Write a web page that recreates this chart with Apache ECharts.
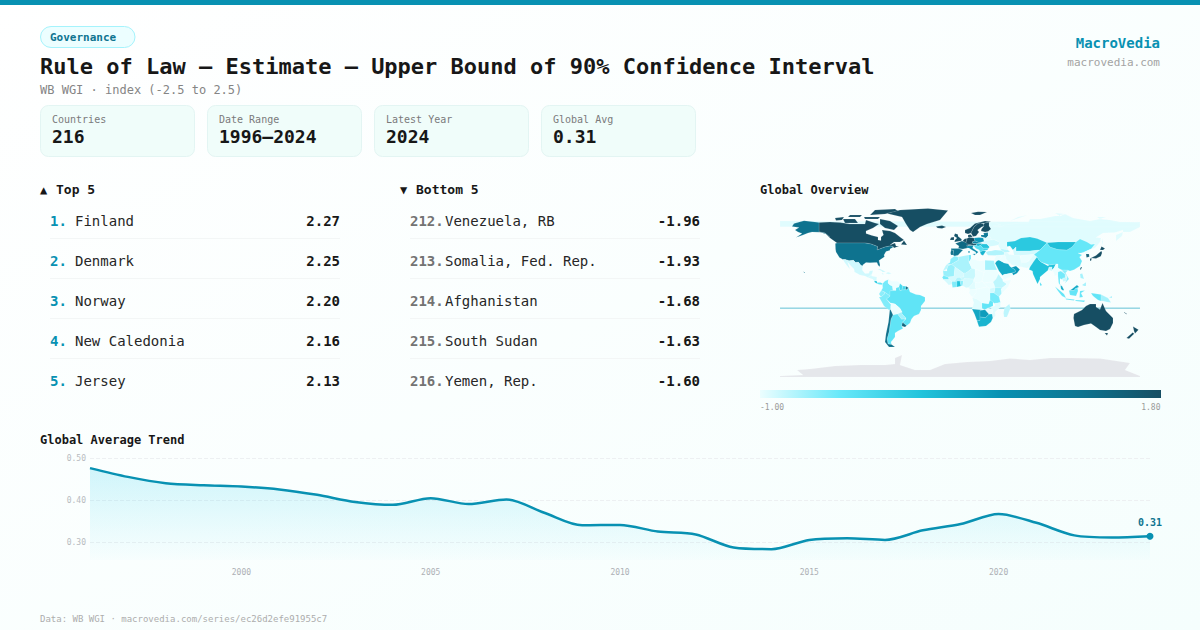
<!DOCTYPE html>
<html><head><meta charset="utf-8">
<style>html,body{margin:0;padding:0;background:#fff}#c{width:1200px;height:630px}</style>
<script src="https://cdn.jsdelivr.net/npm/echarts@6/dist/echarts.min.js"></script>
</head><body><div id="c"></div>
<script>
const years=[1996,1997,1998,1999,2000,2001,2002,2003,2004,2005,2006,2007,2008,2009,2010,2011,2012,2013,2014,2015,2016,2017,2018,2019,2020,2021,2022,2023,2024];
const globalAvg=[0.477,0.456,0.441,0.436,0.433,0.426,0.413,0.396,0.389,0.405,0.391,0.402,0.370,0.340,0.341,0.325,0.318,0.287,0.283,0.305,0.309,0.305,0.328,0.343,0.367,0.346,0.316,0.311,0.314];
const yTicks=[0.3,0.4,0.5];
const statLabels=['Countries','Date Range','Latest Year','Global Avg'];
const statValues=['216','1996–2024','2024','0.31'];
const topNames=['Finland','Denmark','Norway','New Caledonia','Jersey'];
const topValues=['2.27','2.25','2.20','2.16','2.13'];
const topRanks=['1.','2.','3.','4.','5.'];
const bottomNames=['Venezuela, RB','Somalia, Fed. Rep.','Afghanistan','South Sudan','Yemen, Rep.'];
const bottomValues=['-1.96','-1.93','-1.68','-1.63','-1.60'];
const bottomRanks=['212.','213.','214.','215.','216.'];
const scaleColors=['#ecfeff','#67e8f9','#22c4dc','#0891b2','#0e7490','#164e63'];

const countryNames=['Fiji','Russia','Canada','USA','Mexico','Guatemala-Honduras','Costa Rica','Panama','Cuba','Hispaniola','Jamaica','Colombia','Venezuela','Guyana','Suriname','French Guiana','Ecuador','Peru','Brazil','Bolivia','Paraguay','Uruguay','Argentina','Chile','Iceland','Ireland','UK','Norway','Sweden','Finland','Denmark','France','Spain','Portugal','Benelux','Germany','Alps','Italy','Poland','Czechia-Slovakia','Romania','Hungary','Bulgaria','Balkans','Greece','Baltics','Belarus','Ukraine','Turkey','Morocco','W. Sahara','Algeria','Tunisia','Libya','Egypt','Mauritania','Mali','Senegal','Guinea','Ivory Coast','Ghana','Burkina Faso','Togo-Benin','Nigeria','Niger','Chad','Cameroon','CAR','Sudan','South Sudan','Ethiopia','Somalia','Kenya','Uganda','Tanzania','DR Congo','Congo-Gabon','Angola','Zambia','Mozambique','Zimbabwe','Namibia','Botswana','South Africa','Madagascar','Saudi Arabia','Oman-UAE','Yemen','Iraq','Levant','Iran','Caucasus','Kazakhstan','Central Asia','Afghanistan','Pakistan','India','Bangladesh','Sri Lanka','China','Mongolia','North Korea','South Korea','Japan','Taiwan','Myanmar','Thailand','Laos','Vietnam','Cambodia','Malaysia','Indonesia','Papua New Guinea','Philippines','Australia','New Zealand','New Caledonia','Greenland','Antarctica'];
const countryValues=[0.5,-0.95,1.9,1.25,-0.88,-0.9,0.1,-0.4,-0.85,-0.9,-0.6,-0.5,-1.96,-0.2,-0.2,1.4,-0.6,-0.55,-0.38,-1.2,-0.7,1.45,-0.38,1.3,2.1,1.9,1.7,2.2,2.1,2.27,2.25,1.4,1.2,1.3,1.9,1.9,1.9,0.8,0.6,0.9,0.1,0.3,-0.1,-0.3,0.3,1.1,-0.95,-0.9,-0.75,-0.6,-0.8,-0.72,-0.5,-1.2,-0.7,-0.65,-0.9,-0.5,-0.9,-0.55,0.1,-0.75,-0.6,-0.9,-0.85,-1.05,-0.95,-1.3,-1.3,-1.63,-0.8,-1.93,-0.7,-0.9,-0.5,-1.5,-1.0,-0.95,-0.4,-0.95,-1.0,0.45,0.55,0.3,-0.8,0.4,0.6,-1.6,-1.1,-1.0,-0.95,-0.8,0.05,-0.9,-1.68,-0.95,0.12,-0.85,-0.3,-0.42,0.18,-1.2,1.5,2.0,1.6,-1.1,-0.5,-0.85,-0.6,-0.85,0.4,-0.4,-0.7,-0.7,2.1,2.2,2.16,2.0,null];

// Hand-traced outlines (lon,lat pairs) that stand in for the world map the page has no network to load.
const countryOutlines={
'Fiji':[[-180,-15.8,180,-15.8,180,-16.5,-180,-16.5]],
'Russia':[[-180,65.2,180,65.2,180,70,-180,71],[28,56,31,54,31,52,34,52.3,40,49.5,39,47.5,38,47,40,43.5,48,42,47,45.5,47,50,55,51,61,54,70,55,77,53.5,87,49.2,98,50,107,50,116,50,120,53,127,50,131,47.5,135,48,131,43,135,44,140,50,141,54,136,54.5,143,59,155,59.5,163,62,163,60,156,57,156,51,162,56,163,60,170,60,180,65,180,69,170,70,160,70,150,72,140,73,130,71,113,74,105,78,90,75,80,73,70,73,68,69,60,69,45,67,40,65,33,66,41,67,34,69.5,29,69.7,29,66,31,63,28,60.5,28,59.5],[50,71,56,73,68,77,58,75,52,72],[95,79,105,78,100,76],[137,75,146,75,140,73],[142,54,143,50,142.5,46,142,50]],
'Canada':[[-141,69.6,-130,70,-120,69.5,-110,68,-95,68,-94,72,-85,69,-81,68,-87,64,-94,61,-94,58.5,-88,56.5,-82,55,-82,52,-79,51.5,-79,55,-76.5,57,-78,62,-70,61,-65,59,-60,55,-56,52,-60,50,-66,50,-70,47,-65,49,-64,46,-61,46,-66,44,-67,45.5,-70,46,-75,45,-79,43.5,-83,42,-82.5,45.5,-89,48,-95,49,-123,49,-130,54,-135,59,-141,60],[-80,73,-70,71,-62,66,-66,62,-75,64,-80,68],[-117,73,-105,73,-102,69,-115,69],[-90,77,-85,82,-65,83,-62,81,-75,78],[-125,74,-116,75,-118,72,-124,71.5],[-96,75,-80,75,-82,73,-95,73],[-110,77,-98,77,-100,75,-112,75],[-59,47.6,-53,47,-56,51.5]],
'USA':[[-124.7,48.4,-123,49,-95,49,-89,48,-82.5,45.5,-83,42,-79,43.5,-75,45,-70,46,-67,45.5,-67,44.7,-70,43,-70,41.7,-74,40.5,-76,37,-75.5,35.3,-81,31.5,-80,27,-80.5,25.2,-82,27,-83,29.5,-85,29.6,-90,29.2,-94,29.5,-97.3,27,-97.2,26,-99,26.5,-101.5,29.8,-104.5,29.6,-106.5,31.7,-111,31.3,-114.8,32.5,-117.1,32.5,-120.6,34.6,-124,40,-124.5,43],[-168,65.5,-166,68.5,-156,71.3,-141,69.6,-141,60,-135,59,-130,55,-134,58,-140,59.8,-148,60,-152,59,-157,57,-164,54.6,-158,58.5,-162,60,-165,62,-161,64.5],[-156.5,20.5,-155,19.6,-155.8,18.9]],
'Mexico':[[-117.1,32.5,-114.8,32.5,-111,31.3,-106.5,31.7,-104.5,29.6,-101.5,29.8,-99,26.5,-97.2,26,-97.8,22,-95,18.5,-91,18.7,-90.5,21,-87,21.5,-88,18,-92,14.6,-95,16,-100,17,-105.5,20,-106,23,-109,26,-112.5,30,-110,23,-112,25,-115,29]],
'Guatemala-Honduras':[[-92,14.6,-88,18,-88.5,16,-83.2,15,-83.5,11,-85.7,11,-87.5,13,-90,13.8]],
'Costa Rica':[[-85.7,11,-83.5,11,-82.6,9.5,-83.5,8.4,-85.5,10]],
'Panama':[[-82.6,9.5,-79.5,9.6,-77.3,8.5,-78,7.3,-80.5,7.4,-83,8.3]],
'Cuba':[[-85,22,-80,23,-74.2,20.2,-77.5,19.9,-78.5,21.2,-82,22.4]],
'Hispaniola':[[-74.4,18.5,-72,20,-68.4,18.6,-71,17.7]],
'Jamaica':[[-78.4,18.4,-76.2,18.1,-77.2,17.7]],
'Colombia':[[-77.3,8.5,-75,11,-71.5,12.4,-72,9,-70,7,-67.5,6,-67,1.5,-70,1,-70,-4.2,-72,-2.5,-75.5,0,-78.8,1.4,-77.3,4,-77.5,7]],
'Venezuela':[[-71.5,12.4,-68,10.8,-62,10.7,-60,8.5,-61,5,-64,4,-64,1.5,-67,1.5,-67.5,6,-70,7,-72,9]],
'Guyana':[[-60,8.5,-57.2,6,-58,2,-60,1.3,-61,5]],
'Suriname':[[-57.2,6,-54,5.8,-54.3,2.2,-58,2]],
'French Guiana':[[-54,5.8,-51.6,4.2,-53,2.2,-54.3,2.2]],
'Ecuador':[[-78.8,1.4,-75.5,0,-75.5,-2,-79,-5,-81,-2]],
'Peru':[[-81,-5,-79,-5,-75.5,-2,-75.5,0,-72,-2.5,-70,-4.2,-73.5,-7,-70.5,-11,-69,-12.5,-69.5,-17.5,-71,-18,-76,-14]],
'Brazil':[[-70,-4.2,-70,1,-67,1.5,-64,1.5,-64,4,-61,5,-60,1.3,-58,2,-54.3,2.2,-53,2.2,-51.6,4.2,-50,0,-44,-2.5,-40,-3,-35,-5.2,-35,-9,-39,-14,-39,-18,-41,-22,-46,-24,-48.5,-27,-50,-31,-53.4,-33.7,-57.6,-30.2,-54,-27,-54.6,-25.5,-58,-22,-58,-20,-60,-16.3,-65,-12,-69.5,-11,-73.5,-7]],
'Bolivia':[[-69.5,-11,-65,-12,-60,-16.3,-58,-20,-62.5,-22,-67,-23,-69.5,-17.5,-69,-12.5]],
'Paraguay':[[-62.5,-22,-58,-20,-58,-22,-54.6,-25.5,-54.7,-27,-58.5,-27.2]],
'Uruguay':[[-57.6,-30.2,-53.4,-33.7,-55,-34.9,-58.4,-34]],
'Argentina':[[-67,-23,-62.5,-22,-58.5,-27.2,-54.7,-27,-57.6,-30.2,-58.4,-34,-57,-36.5,-62,-39,-65,-41,-65,-45,-69,-50,-68.5,-52.5,-72,-52,-73,-47,-71,-40,-70,-33,-69,-27]],
'Chile':[[-69.5,-17.5,-67,-23,-69,-27,-70,-33,-71,-40,-73,-47,-72,-52,-68.5,-52.5,-65,-55,-71,-55,-75,-50,-74,-42,-71.5,-30,-70.2,-18]],
'Iceland':[[-24,65.5,-18,66.5,-14,65,-18,63.4,-22.5,64]],
'Ireland':[[-10,52,-6,52,-6,55,-9,54.5]],
'UK':[[-5.5,50,1.4,51.3,1.7,52.8,-2,55.8,-2,57.6,-5,58.6,-6,56,-3,54,-5,52]],
'Norway':[[5,59,8,58,11,59,12,61,14,65,18,68.5,25,69,29,69.7,31,70.2,25,71,15,68.5,10,64,5,62],[11,79,18,80.3,27,80,20,77,15,77]],
'Sweden':[[11,59,13,55.5,16,56,19,60,17.5,62,21.5,65,24,66,23.5,68,20.5,69,18,68.5,14,65,12,61]],
'Finland':[[21,61,25,60,28,60.5,31,63,29,66,29,69.7,25,69,23.5,68,24,66,21.5,63]],
'Denmark':[[8,55,12.5,55,12,56,10.5,57.6,8,57]],
'France':[[-4.7,48.4,2,51,8,49,7.5,44,3,43,-1.7,43.4,-1,46]],
'Spain':[[-8.8,42,-9,43.5,-1.7,43.4,3,42,0,39,-2,36.8,-5.5,36,-7,37,-6.5,41.5]],
'Portugal':[[-8.8,42,-6.5,41.5,-7,37,-9,37,-9.5,39]],
'Benelux':[[3,51.4,4.8,53.3,7,53.4,6,49.6,2.8,50.8]],
'Germany':[[6,49.6,7,53.4,9,54.8,14,54,15,51,12,50,13.7,48.5,10,47.5,7.6,47.7]],
'Alps':[[6,46.5,7.6,47.7,10,47.5,13,48.3,17,48.5,16,46.8,10,46.5]],
'Italy':[[7,44,7,46,13.5,46.5,12.5,44,16,41.5,18.4,40,16,38,15.7,40,12,42,9,44],[12.5,38,15.5,38.2,15,36.7],[8.3,41,9.7,41,9.5,39,8.5,39]],
'Poland':[[14,54,19,54.5,23.5,54,24,50.5,19,49.4,15,51]],
'Czechia-Slovakia':[[12,50,15,51,19,49.4,22.5,49,17,48.5,13.7,48.5]],
'Romania':[[20.5,46.5,22.5,48.2,27,48,29.5,45,28.5,43.7,23,43.8]],
'Hungary':[[16,46.8,17,48.5,22.5,48.2,20.5,46.5,18,45.8]],
'Bulgaria':[[23,43.8,28.5,43.7,27.5,42,23,41.3]],
'Balkans':[[13.5,46.5,16,46.8,18,45.8,20.5,46.5,23,43.8,23,41.3,20,40,19.3,42,16,43.5]],
'Greece':[[20,40,23,41.3,26,41,24,38,23,36.5,21,37.5]],
'Baltics':[[21,55.5,26,54,28,56,28,59.5,23.5,59,24,57,21,57]],
'Belarus':[[23.5,54,24,51.5,31,52,31,54,28,56,26,54]],
'Ukraine':[[24,51.5,24,50.5,22.5,48.2,27,48,29.5,45.4,33,46,36,46.5,39,47.5,40,49.5,34,52.3,31,52]],
'Turkey':[[26,40,26.5,38.5,28,36.7,36,36.5,44.5,37.3,44,40,41.5,41.5,35,42,31,41,29,41]],
'Morocco':[[-13,27.7,-8.7,27.7,-1.2,32,-2,35,-5.5,35.9,-9.5,33,-10,29.5]],
'W. Sahara':[[-17,21.3,-13,23,-12,26,-8.7,27.7,-13,27.7,-14.5,26]],
'Algeria':[[-8.7,27.7,-1.2,32,-2,35,8.5,37,9,30,11.9,23.5,6,19,3.3,19,-5,25]],
'Tunisia':[[8.5,37,11,37,11,33,9,30]],
'Libya':[[9,30,11,33,15,32.3,20,31,25,31.7,25,20,24,19.5,15,23,11.9,23.5]],
'Egypt':[[25,31.7,34.2,31.3,34.5,28,37,22,25,22]],
'Mauritania':[[-17,21.3,-13,21,-13,23,-12,26,-8.7,27.7,-5,25,-6,15.5,-12,15,-16.5,16.5]],
'Mali':[[-12,15,-6,15.5,-5,25,3.3,19,4,15,0,14.7,-3,14.5,-5.5,10.5,-8,10.5,-11,12]],
'Senegal':[[-17.5,14.7,-16.5,16.5,-12,15,-11,12.5,-16.7,12.4]],
'Guinea':[[-16.7,12.4,-11,12.5,-8,10.5,-8,7.7,-11.4,7,-13.5,9.5]],
'Ivory Coast':[[-8,10.5,-5.5,10.5,-3,11,-3,5,-7.5,4.4,-8,7.7]],
'Ghana':[[-3,11,0,11,1,6,-3,5]],
'Burkina Faso':[[-5.5,10.5,-3,11,0,11,2.3,12,0,14.7,-3,14.5]],
'Togo-Benin':[[0,11,3.5,11.5,2.7,6.2,1,6]],
'Nigeria':[[2.7,6.2,3.5,11.5,4,13.5,14,13,13,9,9,4.5,6,4.3]],
'Niger':[[0,14.7,2.3,12,3.5,11.5,4,13.5,14,13,15.5,16,15,23,11.9,23.5,6,19,3.3,19,4,15]],
'Chad':[[15,23,24,19.5,22,11,19,9,15,9.5,14,13,15.5,16]],
'Cameroon':[[9,4.5,13,9,14,13,15,9.5,16,2.5,9.7,2.3]],
'CAR':[[15,9.5,19,9,22,11,27.4,5,19,3.5,16,2.5]],
'Sudan':[[25,22,37,22,38.5,18,36,13,33,10,24,9,22,11,24,19.5,25,20]],
'South Sudan':[[24,9,33,10,34,8,35,4.5,30,3.5,27.4,5,22,11]],
'Ethiopia':[[36,13,38.5,18,43,12,42.7,11,47,8,42,4,35,4.5,34,8,33,10]],
'Somalia':[[42.7,11,51,12,48,5,41.5,-1.7,41,3,42,4,47,8]],
'Kenya':[[35,4.5,42,4,41,3,41.5,-1.7,39,-4.6,34,-1]],
'Uganda':[[30,3.5,35,4.5,34,-1,30,-1]],
'Tanzania':[[30,-1,34,-1,39,-4.6,40.4,-10.5,34.5,-11.5,30,-8]],
'DR Congo':[[12.3,-5.8,13,-4.5,16,-1,16,2.5,19,3.5,27.4,5,30,3.5,30,-8,28.5,-12,22,-11,17,-7,13,-6]],
'Congo-Gabon':[[9.7,2.3,16,2.5,16,-1,13,-4.5,12,-5,9,-1]],
'Angola':[[12.3,-5.8,13,-6,17,-7,22,-11,24,-11,22,-18,12,-17,13.8,-11]],
'Zambia':[[22,-11,28.5,-12,30,-8,33,-10,33,-14,28,-16,25,-17.7,22,-16]],
'Mozambique':[[34.5,-11.5,40.4,-10.5,40.5,-15,35,-20,35.5,-24,32.8,-26,32,-22,33,-18,30,-15.5,35,-14]],
'Zimbabwe':[[25,-17.7,28,-16,33,-18,32,-22,29,-22.3]],
'Namibia':[[12,-17,22,-18,25,-17.7,20,-18.5,20,-28.5,17,-28.7,14.5,-22]],
'Botswana':[[20,-18.5,25,-17.7,29,-22.3,25.5,-25.7,20,-25]],
'South Africa':[[17,-28.7,20,-28.5,20,-25,25.5,-25.7,29,-22.3,32,-22,32.8,-26,31,-30,26,-34,19,-34.8,18,-32]],
'Madagascar':[[49.3,-12,50.5,-16,47,-25,44,-25,43.5,-21,44.5,-16]],
'Saudi Arabia':[[35,29,37,31.5,39,32,44.5,29,48,28.5,50,25.5,51.5,24.5,55,22.5,55.5,20,52,19,44,17.5,42.5,16.5,39,21,37,25]],
'Oman-UAE':[[51.5,24.5,56,26,59.8,22.5,57,18.8,53,16.7,52,19,55.5,20,55,22.5]],
'Yemen':[[42.5,16.5,44,17.5,52,19,53,16.7,45,12.8,43.5,12.7]],
'Iraq':[[39,32,41,34.5,42,37,44.5,37.3,46,35,46,33,48.5,30,48,28.5,44.5,29]],
'Levant':[[34.2,31.3,36,36.5,42,37,41,34.5,39,32,37,31.5,35,29]],
'Iran':[[44.5,37.3,44.5,39.5,48,39,49,37.5,54,37,60,36.5,61,31,63,27,61.5,25,57,26,52,27,48.5,30,46,33,46,35]],
'Caucasus':[[40,43.5,48,42,50,40,44.5,39.5,44,40,41.5,41.5]],
'Kazakhstan':[[47,45.5,47,50,55,51,61,54,70,55,77,53.5,87,49.2,80,42,70,41,66,41,56,41,56,45,53,42,50,46]],
'Central Asia':[[53,42,56,45,56,41,66,41,70,41,80,42,74,37.5,66,37,61,36.5,54,37]],
'Afghanistan':[[61,36.5,66,37,74,37.5,71,34,69,31,66,29.5,61,29.5]],
'Pakistan':[[61,29.5,66,29.5,69,31,71,34,74,37.5,77,35,74,31,70,25,67,24,61.5,25]],
'India':[[74,31,77,35,79,32,81,30,88,26,89,27,96,28,94,24,92,22,92,25,89,25,88,21.7,80,15,80,13,77.5,8,73,18,72.5,21,69,22.5,70,25]],
'Bangladesh':[[89,25,92,25,92,21,89,22]],
'Sri Lanka':[[80,9.8,82,7,80.5,6,79.8,8]],
'China':[[74,37.5,80,42,87,49.2,90,45,98,42.5,107,42,112,45,116,50,120,53,127,50,131,47.5,135,48,131,43,124.3,40,121,39,118,39,122,37,119.5,35,122,31,120,26,114,22.3,110,21,108,21.7,102,22,98,24,98,28,96,28,89,27,88,27.5,81,30,79,32,77,35]],
'Mongolia':[[87,49.2,98,50,107,50,116,50,112,45,107,42,98,42.5,90,45]],
'North Korea':[[124.3,40,131,43,129,40,127,38,125,38]],
'South Korea':[[126,38,129,38,129.3,35.3,126.5,34.4]],
'Japan':[[130.9,34,136,36.5,140,40,141.5,41,142,39,140.8,35.7,136,33.6],[140,42,141.5,45.5,145,43.5,143,42],[130,33.5,131.8,33.7,131,31,130,31.5]],
'Taiwan':[[121,25,122,25,120.8,22,120,23]],
'Myanmar':[[92,22,94,24,96,28,98,28,98,24,101,21,98,16,98.5,10,97,17,94.5,16,94,19]],
'Thailand':[[98,20,101,21,105,18,105.5,14.5,102,12.5,100,13.5,100,8,102,6,99,8,98.5,10,98,16]],
'Laos':[[101,21,102,22,104,19,107,16,106,14,105.5,14.5,105,18]],
'Vietnam':[[102,22,108,21.7,105.5,19,109,13,105,8.7,106,11,107,14.5,107,16,104,19]],
'Cambodia':[[102.5,14,107,14.5,106,11,103,10.5]],
'Malaysia':[[100.5,6.5,102,6,104,2,103,1.5,101,3],[109.6,1.5,112,3,117,7,119,5,115.5,3.5,114,1.5]],
'Indonesia':[[109,1.5,114,1.5,115.5,3.5,117.5,4,118,1,116,-4,110,-3],[95,5.5,104,-2,106,-6,102,-4,98,1],[105.5,-6.5,114.5,-7.5,114,-8.5,106,-7.5],[119.5,-5.5,120,1,125,1.5,121,-1,123,-5],[131,-1,141,-2.6,141,-9,138,-8,133,-4],[115,-8,125,-8.5,124,-10,116,-9]],
'Papua New Guinea':[[141,-2.6,148,-6,151,-10.5,147,-10,143,-9,141,-9],[149,-5.5,152,-4,152,-6]],
'Philippines':[[120,18,122.3,18.5,124,13,120.5,14],[122,7,126,9.8,126,6,124,6]],
'Australia':[[114,-22,122,-18,126,-14,130,-12,136,-12,136,-15,140,-17.5,142.5,-11,146,-19,153,-26,153,-31,150,-37,146,-39,140,-38,136,-35,131,-31.5,124,-33,118,-35,115,-34,113.5,-26],[144.7,-41,148,-41,147,-43.5]],
'New Zealand':[[173,-34.5,178.5,-37.7,175,-41.5,174,-39],[172.7,-40.5,174.2,-41.7,169,-46.7,166.5,-46]],
'New Caledonia':[[164,-20,167,-22,166.5,-22.3,164,-20.5]],
'Greenland':[[-73,78.5,-60,82,-32,83.6,-12,81.5,-20,72,-33,68,-40,65,-47,60,-50,62,-54,68,-58,75]],
'Antarctica':[[-180,-85,180,-85,180,-84,165,-78,170,-71,140,-66.5,110,-66,90,-66,70,-68,50,-66.5,30,-69,7,-70,-15,-72,-30,-78,-45,-78,-60,-73,-58,-63,-65,-66,-65,-72,-75,-73,-100,-73,-125,-74,-150,-77,-163,-78,-157,-83,-180,-84]]
};

const toRing=f=>{const r=[];for(let i=0;i<f.length;i+=2)r.push([f[i],f[i+1]]);r.push([f[0],f[1]]);return [r];};
const worldGeo={type:'FeatureCollection',features:countryNames.map(n=>({type:'Feature',properties:{name:n},geometry:{type:'MultiPolygon',coordinates:countryOutlines[n].map(toRing)}}))};
echarts.registerMap('world',worldGeo);

const MONO='"DejaVu Sans Mono",monospace';
const txt=(x,y,text,size,fill,weight,align)=>({type:'text',silent:true,x:x,y:y,style:{text:text,fontFamily:MONO,fontSize:size,fontWeight:weight||'normal',fill:fill,align:align||'left',verticalAlign:'middle'}});
const box=(x,y,w,h,r,fill,stroke)=>({type:'rect',silent:true,shape:{x:x,y:y,width:w,height:h,r:r},style:{fill:fill,stroke:stroke,lineWidth:1}});
const rule=(x1,x2,y)=>({type:'line',silent:true,shape:{x1:x1,y1:y,x2:x2,y2:y},style:{stroke:'#f3f6f6',lineWidth:1}});

const g=[];
g.push({type:'rect',silent:true,z:-10,shape:{x:0,y:0,width:1200,height:630},style:{fill:new echarts.graphic.LinearGradient(0,0,1,1,[{offset:0,color:'#ffffff'},{offset:1,color:'#f5fefd'}])}});
g.push({type:'rect',silent:true,shape:{x:0,y:0,width:1200,height:5},style:{fill:'#0891b2'}});
g.push(box(40.5,26.5,94.5,21,10.5,'#ecfeff','#a5f3fc'));
g.push(txt(50,37.5,'Governance',11,'#0e7490','bold'));
g.push(txt(40,66,'Rule of Law — Estimate — Upper Bound of 90% Confidence Interval',22,'#171717','bold'));
g.push(txt(40,89.5,'WB WGI · index (-2.5 to 2.5)',12,'#858585'));
g.push(txt(1160,43,'MacroVedia',14,'#0891b2','bold','right'));
g.push(txt(1160,62,'macrovedia.com',11,'#a3a3a3','normal','right'));
statLabels.forEach((l,i)=>{const x=40+167*i;
  g.push(box(x+.5,105.5,154,51,8,'#f0fdfa','#e3f5f3'));
  g.push(txt(x+12,119,l,10,'#7a7a7a'));
  g.push(txt(x+12,136.5,statValues[i],18,'#171717','bold'));
});
g.push(txt(40,189.5,'▲',12,'#171717','bold'));
g.push(txt(56,189.5,'Top 5',13,'#171717','bold'));
g.push(txt(400,189.5,'▼',12,'#171717','bold'));
g.push(txt(416,189.5,'Bottom 5',13,'#171717','bold'));
topNames.forEach((n,i)=>{const y=221+40*i;
  g.push(txt(50,y,topRanks[i],14,'#0891b2','bold'));
  g.push(txt(75,y,n,14,'#262626'));
  g.push(txt(340,y,topValues[i],14,'#171717','bold','right'));
  if(i<4)g.push(rule(50,340,y+17.5));
});
bottomNames.forEach((n,i)=>{const y=221+40*i;
  g.push(txt(410,y,bottomRanks[i],14,'#737373','bold'));
  g.push(txt(445,y,n,14,'#262626'));
  g.push(txt(700,y,bottomValues[i],14,'#171717','bold','right'));
  if(i<4)g.push(rule(410,700,y+17.5));
});
g.push(txt(760,190,'Global Overview',12,'#171717','bold'));
g.push({type:'rect',silent:true,shape:{x:760,y:390,width:401,height:8},style:{fill:new echarts.graphic.LinearGradient(0,0,1,0,scaleColors.map((c,i)=>({offset:i/(scaleColors.length-1),color:c})))}});
g.push(txt(760,407.5,'-1.00',8,'#9a9a9a'));
g.push(txt(1160.5,407.5,'1.80',8,'#9a9a9a','normal','right'));
g.push(txt(40,440,'Global Average Trend',12,'#171717','bold'));
g.push(txt(40,619,'Data: WB WGI · macrovedia.com/series/ec26d2efe91955c7',9,'#adadad'));

const lineData=globalAvg.map((v,i)=>i===globalAvg.length-1?{value:v,symbol:'circle',symbolSize:7,label:{show:true,position:'top',distance:5,formatter:statValues[3],fontFamily:MONO,fontSize:10,fontWeight:'bold',color:'#0e7490'}}:{value:v,symbol:'none'});

const chart=echarts.init(document.getElementById('c'),null,{renderer:'svg',width:1200,height:630});
chart.setOption({
  animation:false,
  graphic:{elements:g},
  grid:{left:90,top:458.5,width:1060,height:101.5,containLabel:false},
  xAxis:{type:'category',data:years.map(String),boundaryGap:false,axisLine:{show:false},axisTick:{show:false},splitLine:{show:false},
    axisLabel:{interval:(i,v)=>+v%5===0,margin:8,fontFamily:MONO,fontSize:8,color:'#adb0b5'}},
  yAxis:{type:'value',min:0.257,max:0.5,axisLine:{show:false},axisTick:{show:false},splitLine:{show:false},
    axisLabel:{customValues:yTicks,margin:4,padding:[2,0,0,0],fontFamily:MONO,fontSize:8,color:'#b8bbc0',formatter:v=>v.toFixed(2)}},
  visualMap:{type:'continuous',show:false,seriesIndex:0,min:-1,max:1.8,inRange:{color:scaleColors}},
  series:[
    {type:'map',map:'world',roam:false,silent:true,aspectScale:1,left:780,top:208.4,width:360,height:168.6,
      label:{show:false},emphasis:{disabled:true},select:{disabled:true},
      itemStyle:{areaColor:'#e5e7eb',borderColor:'rgba(255,255,255,0.45)',borderWidth:0.3},
      data:countryNames.map((n,i)=>({name:n,value:countryValues[i]}))},
    {type:'line',data:lineData,smooth:0.3,showSymbol:true,showAllSymbol:true,silent:true,
      lineStyle:{color:'#0891b2',width:2.5},itemStyle:{color:'#0891b2'},
      areaStyle:{color:new echarts.graphic.LinearGradient(0,0,0,1,[{offset:0,color:'rgba(34,205,235,0.28)'},{offset:1,color:'rgba(34,211,238,0.02)'}])},
      markLine:{silent:true,z:1,symbol:'none',label:{show:false},lineStyle:{color:'#edf0f2',type:'dashed',width:1},data:yTicks.map(t=>({yAxis:t}))}}
  ]
});
</script></body></html>
